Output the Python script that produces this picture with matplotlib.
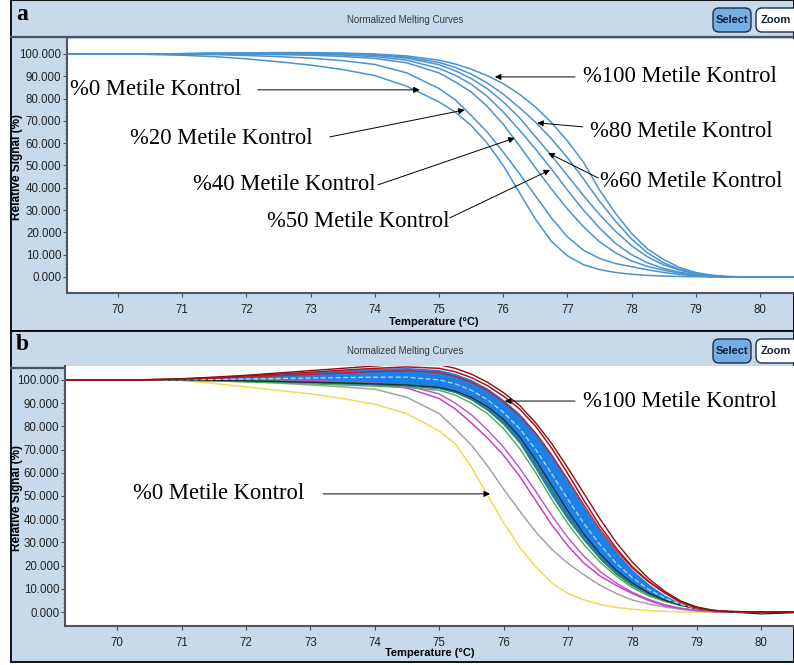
import numpy as np
import matplotlib
matplotlib.use("Agg")
import matplotlib.pyplot as plt
from matplotlib.patches import Rectangle, FancyBboxPatch
from matplotlib.ticker import FuncFormatter, FixedLocator

plt.rcParams['font.family'] = ['Liberation Sans', 'DejaVu Sans']

# temperature grid (deg C) shared by all curves
temps = [69.2, 70.3, 71.0, 71.5, 72.0, 72.5, 73.0, 73.5, 74.0, 74.5, 75.0, 75.25,
         75.5, 75.75, 76.0, 76.25, 76.5, 76.75, 77.0, 77.25, 77.5, 77.75, 78.0,
         78.25, 78.5, 78.75, 79.0, 79.25, 79.5, 80.0, 80.6]

# panel a: methylation standards (relative signal %)
a_m0 = [100, 99.9, 99.4, 98.8, 97.8, 96.5, 95, 93, 90.3, 85.5, 78.5, 74, 68, 60, 50, 38,
        26, 16, 9.5, 5.5, 3.3, 2, 1.2, 0.7, 0.4, 0.2, 0.1, 0, 0, 0, 0]
a_m20 = [100, 100, 99.9, 99.7, 99.3, 98.8, 98.1, 97, 95.3, 91.5, 84.5, 79.5, 72.5, 65, 56,
         46.5, 36.5, 26.5, 18, 12, 8.3, 6, 4.6, 3.2, 2, 1.1, 0.5, 0.1, 0, 0, 0]
a_m40 = [100, 100, 100, 100, 99.9, 99.7, 99.4, 98.9, 98, 96, 91.5, 87.5, 83, 76.5, 68.5,
         59, 49, 39.5, 30.5, 22.5, 15.8, 10.8, 7.2, 4.7, 3, 1.7, 0.8, 0.3, 0, 0, 0]
a_m50 = [100, 100, 100.1, 100.2, 100.2, 100.1, 99.9, 99.5, 98.8, 97.2, 93.5, 90.5, 86.5,
         81, 74, 66, 57.5, 48.5, 39, 30, 22, 15, 10, 6.3, 3.8, 2.1, 1, 0.4, 0.1, 0, 0]
a_m60 = [100, 100, 100.1, 100.2, 100.3, 100.3, 100.2, 100, 99.4, 98.1, 95.2, 92.5, 89,
         84.5, 78.5, 71.5, 63, 54.5, 45.5, 36.5, 28, 20.5, 14, 9, 5.4, 3, 1.4, 0.5, 0.1, 0, 0]
a_m80 = [100, 100, 100.1, 100.3, 100.4, 100.5, 100.4, 100.2, 99.7, 98.6, 96.2, 94, 91, 87,
         82, 76, 69.5, 62, 53.5, 44, 34, 25, 17, 10.8, 6.3, 3.4, 1.6, 0.6, 0.1, 0, 0]
a_m100 = [100, 100, 100.1, 100.3, 100.5, 100.6, 100.6, 100.4, 100, 99.1, 97.2, 95.5, 93.2,
          90.3, 86.7, 82, 76.3, 69.3, 61, 51.5, 39, 28.5, 19.5, 12.5, 7.8, 4.2, 2, 0.8,
          0.2, 0, 0]

# panel b: samples
b_yellow = [100, 100, 99.8, 98.5, 97, 95.5, 94, 92, 89.5, 85.5, 78, 72.5, 62.5, 50.5, 38.5,
            28, 19.5, 12.5, 8, 5.2, 3.3, 2, 1.2, 0.7, 0.3, 0.1, 0, 0, 0, 0, 0]
b_gray = [100, 100, 100, 99.7, 99.2, 98.6, 97.8, 97, 96, 92.5, 85.5, 79, 72, 63, 53, 43.5,
          34.5, 27, 21, 16, 11.5, 8, 5.2, 3.5, 2.2, 1.2, 0.5, 0.2, 0, 0, 0]
b_mag1 = [100, 100, 100, 100, 100, 99.8, 99.5, 99, 98, 96.5, 92, 87.5, 81.5, 75, 67.5,
          58.5, 48, 37.5, 28.5, 21, 15.5, 11.5, 8, 5, 2.8, 1.5, 0.7, 0.2, 0, 0, 0]
b_mag2 = [100, 100, 100, 100, 100, 99.9, 99.7, 99.3, 98.8, 97.5, 94, 90, 85, 78.5, 71, 62,
          52, 41.5, 32, 24, 17.5, 12.5, 8.5, 5.5, 3.2, 1.7, 0.8, 0.3, 0, 0, 0]
b_band_lo = [100, 100, 99.9, 99.7, 99.4, 99.1, 98.7, 98.3, 97.9, 97.4, 96.3, 94.6, 91.5,
             87, 81, 73, 62, 50.5, 40, 31, 23, 16.5, 11.3, 7.6, 5, 3.1, 1.7, 0.8, 0.3, 0, 0]
b_band_hi = [100, 100.2, 100.6, 101.2, 101.8, 102.6, 103.4, 104.2, 105, 105.4, 104.5, 102.8,
             100.2, 96.5, 91.5, 85.5, 77.5, 68, 57, 45.5, 35, 26, 18.3, 12.2, 7.4, 3.9, 1.7,
             0.6, 0.2, 0, 0]
b_green1 = [100, 100, 99.8, 99.5, 99.2, 98.8, 98.3, 97.8, 97.3, 96.8, 95.5, 93.5, 90, 85.5,
            79, 70.5, 60, 48.5, 38, 29, 21.5, 15.5, 10.5, 7, 4.6, 2.8, 1.5, 0.6, 0.2, 0, 0]
b_green2 = [100, 100, 100, 99.9, 99.7, 99.5, 99.2, 98.9, 98.5, 98, 96.8, 95, 92, 87.5, 81.5,
            73.5, 63.5, 52.5, 41.5, 31.5, 23, 16.5, 11.5, 7.8, 5, 3, 1.5, 0.6, 0.1, 0, 0]
b_dark = [100, 100, 100, 99.8, 99.6, 99.3, 99, 98.7, 98.3, 97.8, 96.8, 95.2, 92.5, 88.5, 83,
          75.5, 65.5, 54.5, 43.5, 33.5, 25, 18, 12.5, 8.3, 5.2, 3, 1.5, 0.6, 0.1, -0.8, -0.2]
b_cyan = [100, 100, 100.1, 100.2, 100.4, 100.6, 100.8, 101, 101.2, 101.2, 100, 98.3, 95.5,
          91.5, 86, 79, 70, 59.5, 48.5, 38, 29, 21, 14.8, 9.8, 6, 3.3, 1.6, 0.6, 0.1, 0, 0]
b_red1 = [100, 100, 100.4, 101, 101.7, 102.5, 103.3, 104.2, 105, 105.6, 105, 103.5, 101,
          97.5, 93, 87.5, 80, 70.5, 59.5, 48, 37, 27.5, 19.5, 13.3, 8.3, 4.2, 1.8, 0.6, 0.2,
          0, 0]
b_red2 = [100, 100, 100.3, 100.7, 101.2, 101.8, 102.4, 103, 103.6, 104, 103.2, 101.5, 99,
          95.5, 90.5, 84.5, 77, 67.5, 57, 46, 35.5, 26.5, 19, 13, 8.3, 4.5, 2, 0.7, 0.2, 0, 0]
b_red3 = [100, 100, 100.5, 101.2, 102, 103, 104, 105, 106, 107, 106.5, 105, 102.5, 99, 94.5,
          89, 81.5, 72.5, 62, 51, 40, 30, 21.5, 14.5, 9, 4.8, 2.2, 0.8, 0.3, 0, 0]

y_ticks = [0, 10, 20, 30, 40, 50, 60, 70, 80, 90, 100]
x_ticks = [70, 71, 72, 73, 74, 75, 76, 77, 78, 79, 80]

W, H = 794, 665
fig = plt.figure(figsize=(W / 100, H / 100), dpi=100)
fig.patch.set_facecolor('white')

# background layer in pixel coordinates
bg = fig.add_axes([0, 0, 1, 1])
bg.set_xlim(0, W)
bg.set_ylim(H, 0)
bg.axis('off')

panel_bg = '#c8d9ec'
serif = ['Liberation Serif', 'DejaVu Serif']


def draw_frame(top, bottom, letter, xlab_x):
    bg.add_patch(Rectangle((11, top), W - 11, bottom - top, facecolor=panel_bg,
                           edgecolor='black', lw=1.3))
    bg.plot([11, W], [top + 37, top + 37], color='#4a525c', lw=1.6)
    bg.text(22, top + 14, letter, family=serif, fontweight='bold', fontsize=17,
            ha='center', va='center')
    bg.text(405, top + 20, 'Normalized Melting Curves', fontsize=7,
            color='#3a3a3a', ha='center', va='center')
    bg.add_patch(FancyBboxPatch((713, top + 8), 38, 24, boxstyle='round,pad=0,rounding_size=6',
                                facecolor='#76aee3', edgecolor='#1c2c4c', lw=1.0))
    bg.text(732, top + 20, 'Select', fontsize=8, fontweight='bold', color='#10203a',
            ha='center', va='center')
    bg.add_patch(FancyBboxPatch((756, top + 8), 44, 24, boxstyle='round,pad=0,rounding_size=6',
                                facecolor='white', edgecolor='#1c2c4c', lw=1.0))
    bg.text(776, top + 20, 'Zoom', fontsize=8, fontweight='bold', color='#10203a',
            ha='center', va='center')
    bg.text(17, top + 167, 'Relative Signal (%)', fontsize=8.5, fontweight='bold',
            rotation=90, ha='center', va='center')
    bg.text(xlab_x, bottom - 9, 'Temperature (°C)', fontsize=8, fontweight='bold',
            ha='center', va='center')


draw_frame(0, 331, 'a', 434)
draw_frame(331, 662, 'b', 430)


def style_axes(ax, xlim, ylim):
    ax.set_facecolor('white')
    ax.set_xlim(*xlim)
    ax.set_ylim(*ylim)
    ax.set_xticks(x_ticks)
    ax.set_yticks(y_ticks)
    ax.yaxis.set_minor_locator(FixedLocator(list(range(0, 101, 2))))
    ax.yaxis.set_major_formatter(FuncFormatter(lambda v, p: f'{v:.3f}'))
    ax.tick_params(axis='both', direction='out', length=3, width=0.8, color='#555555',
                   labelsize=8.3, labelcolor='#222222', pad=1)
    ax.tick_params(axis='x', pad=5)
    ax.tick_params(axis='y', which='minor', length=1.5, width=0.6, color='#777777')
    for side in ['top', 'right']:
        ax.spines[side].set_visible(False)
    for side in ['left', 'bottom']:
        ax.spines[side].set_color('#4d5560')
        ax.spines[side].set_linewidth(1.5)


label_font = dict(family=serif, fontsize=16.3, ha='left', va='center')
arrow = dict(arrowstyle='-|>', color='black', lw=0.7, mutation_scale=9, shrinkA=0, shrinkB=0)

# ---- panel a ----
ax_a = fig.add_axes([67 / W, 1 - 293 / H, (W - 67) / W, (293 - 39) / H])
style_axes(ax_a, (69.206, 80.53), (-7.2, 106.7))
for curve in [a_m0, a_m20, a_m40, a_m50, a_m60, a_m80, a_m100]:
    ax_a.plot(temps, curve, color='#4b92cf', lw=1.1)

ax_a.text(69.252, 83.9, '%0 Metile Kontrol', **label_font)
ax_a.text(70.187, 62.3, '%20 Metile Kontrol', **label_font)
ax_a.text(71.168, 41.3, '%40 Metile Kontrol', **label_font)
ax_a.text(72.32, 24.7, '%50 Metile Kontrol', **label_font)
ax_a.text(77.243, 89.7, '%100 Metile Kontrol', **label_font)
ax_a.text(77.352, 65.0, '%80 Metile Kontrol', **label_font)
ax_a.text(77.508, 43.0, '%60 Metile Kontrol', **label_font)

ax_a.annotate('', xy=(74.70, 83.9), xytext=(72.18, 83.9), arrowprops=arrow)
ax_a.annotate('', xy=(75.40, 74.9), xytext=(73.30, 62.8), arrowprops=arrow)
ax_a.annotate('', xy=(76.18, 62.3), xytext=(74.05, 41.3), arrowprops=arrow)
ax_a.annotate('', xy=(76.73, 48.0), xytext=(75.17, 26.5), arrowprops=arrow)
ax_a.annotate('', xy=(75.87, 89.7), xytext=(77.12, 89.7), arrowprops=arrow)
ax_a.annotate('', xy=(76.53, 69.1), xytext=(77.24, 67.3), arrowprops=arrow)
ax_a.annotate('', xy=(76.70, 55.6), xytext=(77.48, 44.4), arrowprops=arrow)

# ---- panel b ----
ax_b = fig.add_axes([65 / W, 1 - 626 / H, (W - 65) / W, (626 - 366) / H])
style_axes(ax_b, (69.19, 80.51), (-6.0, 106.0))
ax_b.plot(temps, b_yellow, color='#efdb55', lw=1.1)
ax_b.plot(temps, b_gray, color='#a3a3a8', lw=1.1)
ax_b.plot(temps, b_mag1, color='#cc3fcc', lw=1.1)
ax_b.plot(temps, b_mag2, color='#b455c8', lw=1.0)
ax_b.fill_between(temps, b_band_lo, b_band_hi, color='#1e80e6', lw=0)
ax_b.plot(temps, b_band_lo, color='#2f6fb8', lw=0.9)
ax_b.plot(temps, b_green1, color='#3fb24c', lw=1.0)
ax_b.plot(temps, b_green2, color='#2e8a3a', lw=0.9)
ax_b.plot(temps, b_dark, color='#1c2838', lw=0.9)
ax_b.plot(temps, b_cyan, color='#a8e2f5', lw=0.9, ls=(0, (4, 2)))
ax_b.plot(temps, b_red2, color='#c8202a', lw=1.0)
ax_b.plot(temps, b_red1, color='#b01018', lw=1.1)
ax_b.plot(temps, b_red3, color='#8c1010', lw=1.0)

ax_b.text(77.236, 90.9, '%100 Metile Kontrol', **label_font)
ax_b.text(70.248, 50.9, '%0 Metile Kontrol', **label_font)
ax_b.annotate('', xy=(76.02, 90.9), xytext=(77.11, 90.9), arrowprops=arrow)
ax_b.annotate('', xy=(75.79, 50.9), xytext=(73.20, 50.9), arrowprops=arrow)

fig.savefig('out.png', dpi=100)
